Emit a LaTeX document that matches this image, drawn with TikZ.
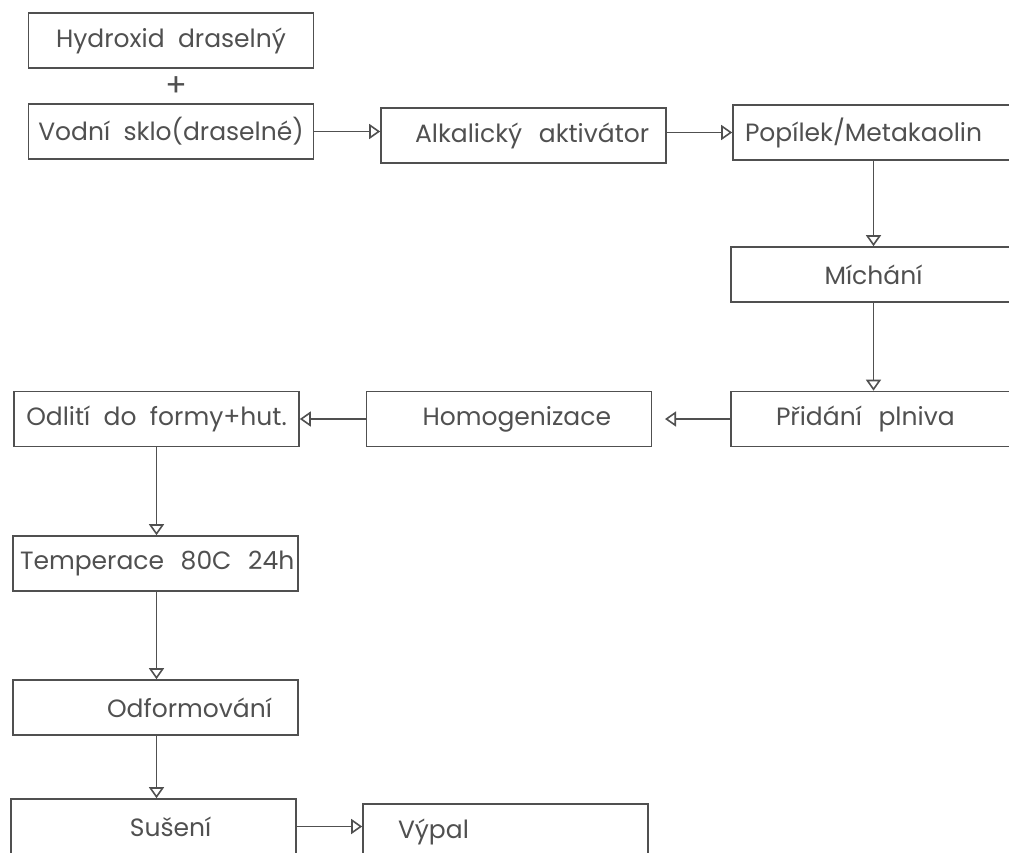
\documentclass[tikz,border=0pt]{standalone}
\usepackage{fontspec}
\setmainfont{Poppins}
\usepackage{xcolor}
\usetikzlibrary{arrows.meta}
\definecolor{cadgray}{RGB}{80,80,80}
\tikzstyle{blok}=[draw=cadgray, line width=1.6pt,% plain CAD box
minimum width=285pt, minimum height=55pt, inner sep=0pt, text=cadgray,
font=\fontsize{25}{29}\selectfont]
\tikzstyle{blokl}=[blok, text width=285pt, align=left]
\tikzstyle{tok}=[draw=cadgray, line width=1.6pt, -{Triangle[open,length=11pt,width=15pt]}]

\begin{document}
\begin{tikzpicture}[x=1pt,y=-1pt]
\useasboundingbox (0,0) rectangle (1009,853);
\node[blok] (hyd) at (171,40.5) {Hydroxid\ \ draselný};
\node[text=cadgray, font=\fontsize{32}{34}\selectfont] (plus) at (176,87) {+};
\node[blok] (vod) at (171,131.5) {Vodní\ \ sklo(draselné)};
\node[blokl] (alk) at (523.5,135.5) {\hspace*{34pt}Alkalický\ \ aktivátor};
\node[blokl] (pop) at (875.5,132.5) {\hspace*{12pt}Popílek/Metakaolin};
\node[blok] (mich) at (873.5,274.5) {Míchání};
\node[blokl] (prid) at (873.5,419) {\hspace*{45pt}Přidání\ \ plniva};
\node[blokl] (hom) at (509,419) {\hspace*{56pt}Homogenizace};
\node[blok] (odl) at (156.5,419) {Odlití\ \ do\ \ formy+hut.};
\node[blokl] (tem) at (155.5,563.5) {\hspace*{7pt}Temperace\ \ 80C\ \ 24h};
\node[blokl] (odf) at (155.5,707.5) {\hspace*{94pt}Odformování};
\node[blokl] (sus) at (153.5,826.5) {\hspace*{119pt}Sušení};
\node[blokl] (vyp) at (505.5,831.5) {\hspace*{35pt}Výpal};
\coordinate (hom-in) at (665,419);

\draw[tok] (vod) -- (vod -| alk.west);
\draw[tok] (alk.east |- pop) -- (pop.west);
\draw[tok] (mich |- pop.south) -- (mich.north);
\draw[tok] (mich.south) -- (prid.north);
\draw[tok] (prid.west) -- (hom-in);
\draw[tok] (hom.west) -- (odl.east);
\draw[tok] (odl.south) -- (odl |- tem.north);
\draw[tok] (odl |- tem.south) -- (odl |- odf.north);
\draw[tok] (odl |- odf.south) -- (odl |- sus.north);
\draw[tok] (sus.east) -- (sus.east -| vyp.west);
\end{tikzpicture}
\end{document}
